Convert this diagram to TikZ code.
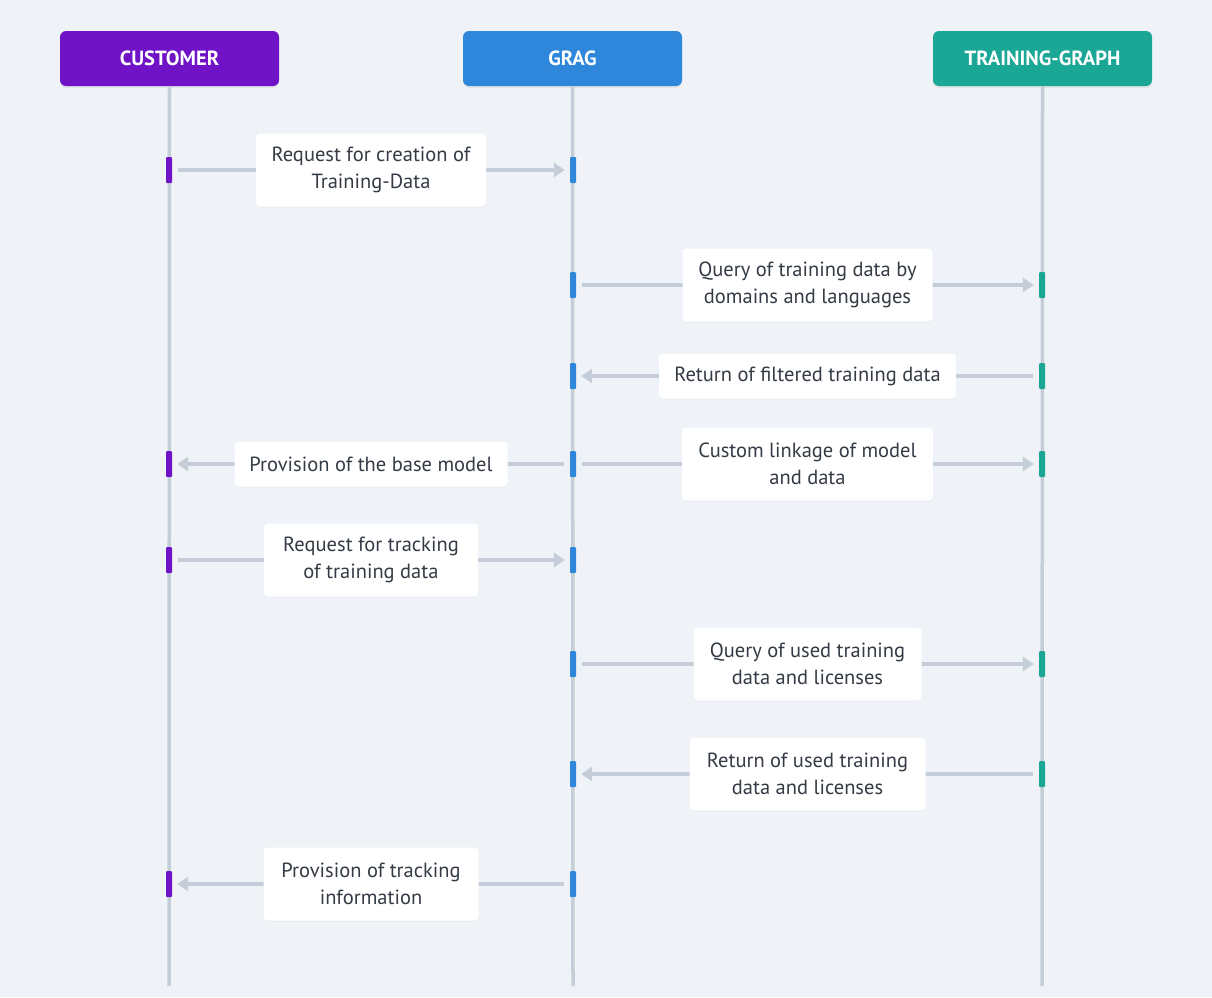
\documentclass[tikz,border=0pt]{standalone}
\usepackage{fontspec}
\setmainfont{PT Sans}
\usetikzlibrary{arrows.meta,shadows}
\definecolor{bgc}{HTML}{EFF3F7}
\definecolor{custc}{HTML}{7012C6}
\definecolor{gragc}{HTML}{2E87DB}
\definecolor{tgc}{HTML}{1BA795}
\definecolor{linec}{HTML}{C5CED8}
\definecolor{txtc}{HTML}{343B45}
\tikzset{
  head/.style={rounded corners=6pt, minimum width=219pt, minimum height=55pt, inner sep=0pt,
    text=white, font=\fontsize{20.5}{22}\selectfont\bfseries,
    drop shadow={opacity=0.12, shadow xshift=0pt, shadow yshift=-2pt}},
  life/.style={draw=linec, line width=3.5pt},
  actbar/.style={minimum width=6pt, minimum height=26pt, inner sep=0pt, rounded corners=1pt},
  msg/.style={draw=linec, line width=3.5pt, shorten <=6pt, shorten >=5pt,
    -{Triangle[length=11pt,width=14pt]}},
  lbl/.style={fill=white, rounded corners=4pt, text=txtc, align=center,
    font=\fontsize{20.5}{27.5}\selectfont, inner sep=0pt,
    drop shadow={opacity=0.06, shadow xshift=0pt, shadow yshift=-1pt}}
}
\begin{document}
\begin{tikzpicture}[x=1pt,y=-1pt]
\fill[bgc] (0,0) rectangle (1212,997);
\useasboundingbox (0,0) rectangle (1212,997);
% headers
\node[head, fill=custc] (cust) at (169.5,58.5) {CUSTOMER};
\node[head, fill=gragc] (grag) at (572.5,58.5) {GRAG};
\node[head, fill=tgc] (tg) at (1042.5,58.5) {TRAINING-GRAPH};
% lifeline ends
\coordinate (custend) at (169,986);
\coordinate (gragend) at (573,986);
\coordinate (tgend) at (1042,986);
\draw[life] (cust.south) -- (custend);
\draw[life] (grag.south) -- (gragend);
\draw[life] (tg.south) -- (tgend);
% activation bars
\foreach \n/\y in {c1/170,c4/464,c5/560,c8/884}
  \node[actbar, fill=custc] (\n) at (169,\y) {};
\foreach \n/\y in {g1/170,g2/285,g3/376,g4/464,g5/560,g6/664,g7/774,g8/884}
  \node[actbar, fill=gragc] (\n) at (573,\y) {};
\foreach \n/\y in {t2/285,t3/376,t4/464,t6/664,t7/774}
  \node[actbar, fill=tgc] (\n) at (1042,\y) {};
% messages
\draw[msg] (c1.east) -- node[lbl, minimum width=230pt, minimum height=73pt] {Request for creation of\\Training-Data} (g1.west);
\draw[msg] (g2.east) -- node[lbl, minimum width=250pt, minimum height=73pt] {Query of training data by\\domains and languages} (t2.west);
\draw[msg] (t3.west) -- node[lbl, minimum width=297pt, minimum height=45pt] {Return of filtered training data} (g3.east);
\draw[msg] (g4.west) -- node[lbl, minimum width=273pt, minimum height=45pt] {Provision of the base model} (c4.east);
\draw[msg] (g4.east) -- node[lbl, minimum width=251pt, minimum height=73pt] {Custom linkage of model\\and data} (t4.west);
\draw[msg] (c5.east) -- node[lbl, minimum width=214pt, minimum height=73pt] {Request for tracking\\of training data} (g5.west);
\draw[msg] (g6.east) -- node[lbl, minimum width=228pt, minimum height=73pt] {Query of used training\\data and licenses} (t6.west);
\draw[msg] (t7.west) -- node[lbl, minimum width=236pt, minimum height=73pt] {Return of used training\\data and licenses} (g7.east);
\draw[msg] (g8.west) -- node[lbl, minimum width=215pt, minimum height=73pt] {Provision of tracking\\information} (c8.east);
\end{tikzpicture}
\end{document}
